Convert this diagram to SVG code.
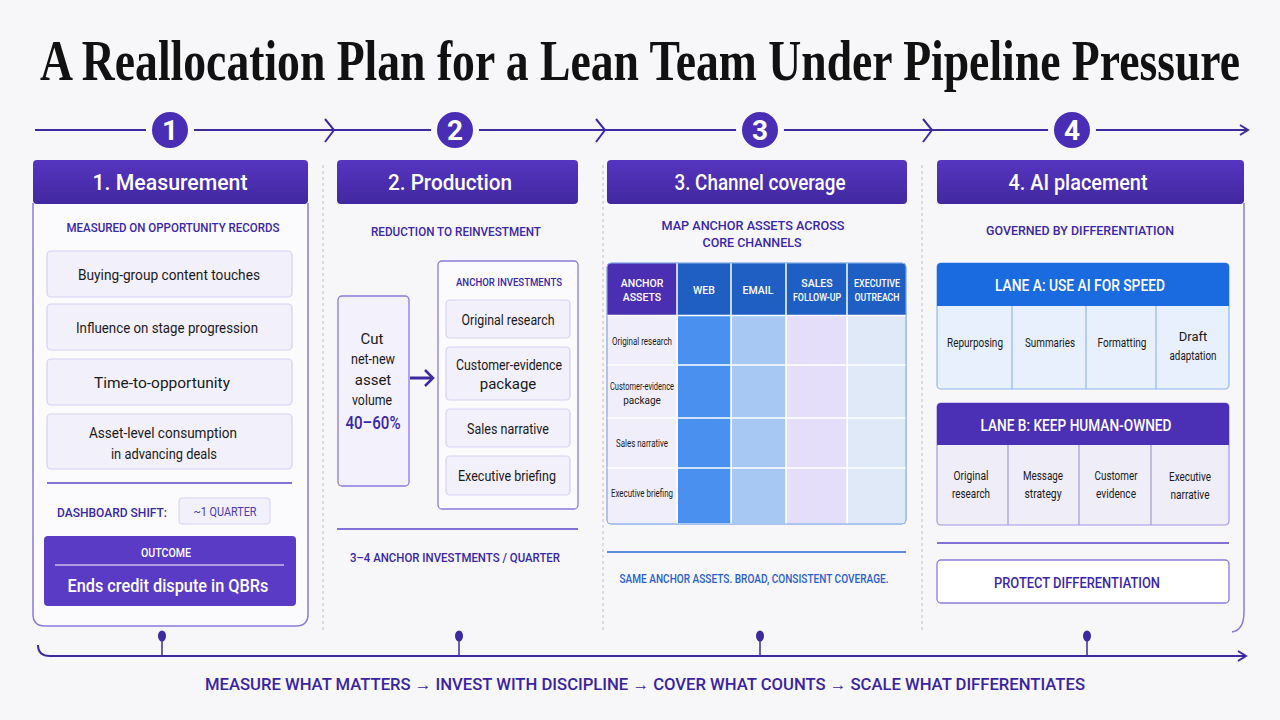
<svg xmlns="http://www.w3.org/2000/svg" width="1280" height="720" viewBox="0 0 1280 720">
<defs>
<style>
text{font-family:Roboto,"Liberation Sans",sans-serif;text-anchor:middle}
.title{font-family:"Liberation Serif",serif;font-weight:bold;font-size:56px;fill:#111}
.hdr{fill:#fff;font-size:22px;font-weight:500}
.num{fill:#fff;font-size:28px;font-weight:bold}
.sub{fill:#3a26a8;font-size:13px;font-weight:500}
.body{fill:#1a1a1a;font-size:15px}
.small{fill:#1a1a1a;font-size:10px}
.th{fill:#fff;font-size:10.5px;font-weight:500}
.cell{fill:#1a1a1a;font-size:13px}
.box{fill:#f2f0fb;stroke:#d6d0f2;stroke-width:1.2}
.pbox{fill:#f3f1fc;stroke:#8c7bdc;stroke-width:1.3}
.rule{stroke:#5b46c8;stroke-width:1.5}
.sep{stroke:#bdbdc6;stroke-width:1;stroke-dasharray:3 3}
.tl{stroke:#3d2a9e;stroke-width:2;fill:none}
</style>
<linearGradient id="hg" x1="0" y1="0" x2="0" y2="1">
<stop offset="0" stop-color="#5535c0"/><stop offset="1" stop-color="#41289f"/>
</linearGradient>
<marker id="ah" viewBox="0 0 12 12" refX="10" refY="6" markerWidth="12" markerHeight="12" markerUnits="userSpaceOnUse" orient="auto">
<path d="M2 1 L10 6 L2 11" fill="none" stroke="#3d2a9e" stroke-width="2"/>
</marker>
</defs>
<rect width="1280" height="720" fill="#f7f7fa"/>
<text class="title" transform="translate(640 80) scale(0.8 1)" x="0" y="0" textLength="1500" lengthAdjust="spacingAndGlyphs">A Reallocation Plan for a Lean Team Under Pipeline Pressure</text>

<g id="connectors">
<line class="tl" x1="35" y1="130" x2="1248" y2="130" marker-end="url(#ah)"/>
<path class="tl" d="M325 119 L334 130 L325 142"/>
<path class="tl" d="M596 119 L605 130 L596 142"/>
<path class="tl" d="M923 119 L932 130 L923 142"/>
<line class="sep" x1="323" y1="165" x2="323" y2="632"/>
<line class="sep" x1="603" y1="165" x2="603" y2="632"/>
<line class="sep" x1="922" y1="165" x2="922" y2="632"/>
<path class="tl" d="M38 645 Q38 656 50 656 H1246" marker-end="url(#ah)"/>
<line x1="162" y1="636" x2="162" y2="656" stroke="#3d2a9e" stroke-width="1.5"/>
<line x1="459" y1="636" x2="459" y2="656" stroke="#3d2a9e" stroke-width="1.5"/>
<line x1="760" y1="636" x2="760" y2="656" stroke="#3d2a9e" stroke-width="1.5"/>
<line x1="1087" y1="636" x2="1087" y2="656" stroke="#3d2a9e" stroke-width="1.5"/>
<ellipse cx="162" cy="636" rx="4" ry="5.5" fill="#3d2a9e"/>
<ellipse cx="459" cy="636" rx="4" ry="5.5" fill="#3d2a9e"/>
<ellipse cx="760" cy="636" rx="4" ry="5.5" fill="#3d2a9e"/>
<ellipse cx="1087" cy="636" rx="4" ry="5.5" fill="#3d2a9e"/>
<path d="M410 378 H431" stroke="#3d2a9e" stroke-width="3"/>
<path d="M425 370 L433 378 L425 386" fill="none" stroke="#3d2a9e" stroke-width="2.5"/>
</g>

<g id="steps">
<circle cx="170" cy="130" r="21" fill="#4a2db5" stroke="#f7f7fa" stroke-width="6"/>
<text class="num" x="170" y="140">1</text>
<circle cx="455" cy="130" r="21" fill="#4a2db5" stroke="#f7f7fa" stroke-width="6"/>
<text class="num" x="455" y="140">2</text>
<circle cx="760" cy="130" r="21" fill="#4a2db5" stroke="#f7f7fa" stroke-width="6"/>
<text class="num" x="760" y="140">3</text>
<circle cx="1072" cy="130" r="21" fill="#4a2db5" stroke="#f7f7fa" stroke-width="6"/>
<text class="num" x="1072" y="140">4</text>
</g>

<g id="col1">
<path d="M33 203 V614 Q33 626 45 626 H296 Q308 626 308 614 V203" fill="#fbfbfe" stroke="#8c7bdc" stroke-width="1.5"/>
<rect x="33" y="160" width="275" height="44" rx="4" fill="url(#hg)"/>
<text class="hdr" x="170" y="190" textLength="155" lengthAdjust="spacingAndGlyphs">1. Measurement</text>
<text class="sub" x="173" y="232" textLength="213" lengthAdjust="spacingAndGlyphs">MEASURED ON OPPORTUNITY RECORDS</text>
<rect class="box" x="47" y="251" width="245" height="46" rx="4"/>
<text class="body" x="169" y="280" textLength="182" lengthAdjust="spacingAndGlyphs">Buying-group content touches</text>
<rect class="box" x="47" y="304" width="245" height="46" rx="4"/>
<text class="body" x="167" y="333" textLength="182" lengthAdjust="spacingAndGlyphs">Influence on stage progression</text>
<rect class="box" x="47" y="359" width="245" height="46" rx="4"/>
<text class="body" x="162" y="388" textLength="136" lengthAdjust="spacingAndGlyphs">Time-to-opportunity</text>
<rect class="box" x="47" y="414" width="245" height="55" rx="4"/>
<text class="body" x="163" y="438" textLength="148" lengthAdjust="spacingAndGlyphs">Asset-level consumption</text>
<text class="body" x="164" y="459" textLength="106" lengthAdjust="spacingAndGlyphs">in advancing deals</text>
<line class="rule" x1="47" y1="483" x2="292" y2="483"/>
<text class="sub" x="112" y="517" textLength="110" lengthAdjust="spacingAndGlyphs">DASHBOARD SHIFT:</text>
<rect x="179" y="498" width="91" height="26" rx="3" fill="#f2f0fb" stroke="#d6d0f2"/>
<text x="225" y="516" fill="#4a3ab0" font-size="12.5" textLength="63" lengthAdjust="spacingAndGlyphs">~1 QUARTER</text>
<rect x="44" y="536" width="252" height="70" rx="4" fill="#5a3bc6"/>
<text x="166" y="557" fill="#fff" font-size="12.5" font-weight="500" textLength="50" lengthAdjust="spacingAndGlyphs">OUTCOME</text>
<line x1="55" y1="565" x2="284" y2="565" stroke="#fff" stroke-width="1"/>
<text x="168" y="592" fill="#fff" font-size="19" font-weight="500" textLength="201" lengthAdjust="spacingAndGlyphs">Ends credit dispute in QBRs</text>
</g>

<g id="col2">
<rect x="337" y="160" width="241" height="44" rx="4" fill="url(#hg)"/>
<text class="hdr" x="450" y="190" textLength="124" lengthAdjust="spacingAndGlyphs">2. Production</text>
<text class="sub" x="456" y="236" textLength="170" lengthAdjust="spacingAndGlyphs">REDUCTION TO REINVESTMENT</text>
<rect class="pbox" x="338" y="296" width="71" height="190" rx="4"/>
<text class="body" x="372" y="344">Cut</text>
<text class="body" x="373" y="364" textLength="44" lengthAdjust="spacingAndGlyphs">net-new</text>
<text class="body" x="373" y="385">asset</text>
<text class="body" x="372" y="405" textLength="40" lengthAdjust="spacingAndGlyphs">volume</text>
<text x="373" y="429" fill="#3a26a8" font-size="18" font-weight="500" textLength="55" lengthAdjust="spacingAndGlyphs">40–60%</text>
<rect x="438" y="261" width="140" height="248" rx="4" fill="#fbfbfe" stroke="#8c7bdc" stroke-width="1.3"/>
<text x="509" y="286" fill="#3a26a8" font-size="11" font-weight="500" textLength="106" lengthAdjust="spacingAndGlyphs">ANCHOR INVESTMENTS</text>
<rect class="box" x="446" y="300" width="124" height="38" rx="4"/>
<text class="body" x="508" y="325" textLength="93" lengthAdjust="spacingAndGlyphs">Original research</text>
<rect class="box" x="446" y="347" width="124" height="53" rx="4"/>
<text class="body" x="509" y="370" textLength="106" lengthAdjust="spacingAndGlyphs">Customer-evidence</text>
<text class="body" x="508" y="389">package</text>
<rect class="box" x="446" y="409" width="124" height="38" rx="4"/>
<text class="body" x="508" y="434" textLength="82" lengthAdjust="spacingAndGlyphs">Sales narrative</text>
<rect class="box" x="446" y="456" width="124" height="39" rx="4"/>
<text class="body" x="507" y="481" textLength="98" lengthAdjust="spacingAndGlyphs">Executive briefing</text>
<line class="rule" x1="337" y1="529" x2="578" y2="529"/>
<text class="sub" x="455" y="562" textLength="210" lengthAdjust="spacingAndGlyphs">3–4 ANCHOR INVESTMENTS / QUARTER</text>
</g>

<g id="col3">
<rect x="607" y="160" width="300" height="44" rx="4" fill="url(#hg)"/>
<text class="hdr" x="760" y="190" textLength="171" lengthAdjust="spacingAndGlyphs">3. Channel coverage</text>
<text class="sub" x="753" y="230" textLength="183" lengthAdjust="spacingAndGlyphs">MAP ANCHOR ASSETS ACROSS</text>
<text class="sub" x="752" y="247" textLength="99" lengthAdjust="spacingAndGlyphs">CORE CHANNELS</text>
<rect x="607" y="263" width="299" height="261" rx="4" fill="#fff" stroke="#8fb2ea" stroke-width="1"/>
<path d="M607 315 V267 Q607 263 611 263 H677 V315 Z" fill="#4b2fb2"/>
<path d="M677 315 V263 H902 Q906 263 906 267 V315 Z" fill="#1f5fc4"/>
<rect x="608" y="316" width="69" height="207" fill="#f0eefa"/>
<rect x="678" y="316" width="53" height="207" fill="#4a90ee"/>
<rect x="732" y="316" width="54" height="207" fill="#a8c8f4"/>
<rect x="787" y="316" width="60" height="207" fill="#e5defa"/>
<rect x="848" y="316" width="57" height="207" fill="#dfe9f8"/>
<g stroke="#fff" stroke-width="1.5">
<line x1="677" y1="263" x2="677" y2="524"/>
<line x1="731" y1="263" x2="731" y2="524"/>
<line x1="786" y1="263" x2="786" y2="524"/>
<line x1="847" y1="263" x2="847" y2="524"/>
<line x1="607" y1="315.5" x2="906" y2="315.5"/>
<line x1="607" y1="365" x2="906" y2="365"/>
<line x1="607" y1="418" x2="906" y2="418"/>
<line x1="607" y1="468" x2="906" y2="468"/>
</g>
<rect x="607" y="263" width="299" height="261" rx="4" fill="none" stroke="#8fb2ea" stroke-width="1"/>
<text class="th" x="642" y="287">ANCHOR</text>
<text class="th" x="642" y="301">ASSETS</text>
<text class="th" x="704" y="294">WEB</text>
<text class="th" x="758" y="294">EMAIL</text>
<text class="th" x="817" y="287">SALES</text>
<text class="th" x="817" y="301" textLength="48" lengthAdjust="spacingAndGlyphs">FOLLOW-UP</text>
<text class="th" x="877" y="287" textLength="46" lengthAdjust="spacingAndGlyphs">EXECUTIVE</text>
<text class="th" x="877" y="301" textLength="45" lengthAdjust="spacingAndGlyphs">OUTREACH</text>
<text class="small" x="642" y="345" textLength="60" lengthAdjust="spacingAndGlyphs">Original research</text>
<text class="small" x="642" y="390" textLength="64" lengthAdjust="spacingAndGlyphs">Customer-evidence</text>
<text class="small" x="642" y="404">package</text>
<text class="small" x="642" y="447" textLength="52" lengthAdjust="spacingAndGlyphs">Sales narrative</text>
<text class="small" x="642" y="497" textLength="62" lengthAdjust="spacingAndGlyphs">Executive briefing</text>
<line x1="607" y1="552" x2="906" y2="552" stroke="#2d68d0" stroke-width="1.5"/>
<text x="754" y="583" fill="#2a60cc" font-size="13" font-weight="500" textLength="269" lengthAdjust="spacingAndGlyphs">SAME ANCHOR ASSETS.  BROAD, CONSISTENT COVERAGE.</text>
</g>

<g id="col4">
<path d="M1244 203 V612 Q1244 630 1232 632" fill="none" stroke="#8c7bdc" stroke-width="1.5"/>
<rect x="937" y="160" width="307" height="44" rx="4" fill="url(#hg)"/>
<text class="hdr" x="1078" y="190" textLength="139" lengthAdjust="spacingAndGlyphs">4. AI placement</text>
<text class="sub" x="1080" y="235" textLength="188" lengthAdjust="spacingAndGlyphs">GOVERNED BY DIFFERENTIATION</text>
<rect x="937" y="263" width="292" height="126" rx="4" fill="#e7f0fc" stroke="#8fb8ee" stroke-width="1.2"/>
<path d="M937 306 V267 Q937 263 941 263 H1225 Q1229 263 1229 267 V306 Z" fill="#1a6be0"/>
<g stroke="#8fb8ee" stroke-width="1.2">
<line x1="1012" y1="306" x2="1012" y2="389"/>
<line x1="1086" y1="306" x2="1086" y2="389"/>
<line x1="1156" y1="306" x2="1156" y2="389"/>
</g>
<text x="1080" y="291" fill="#fff" font-size="16" font-weight="500" textLength="170" lengthAdjust="spacingAndGlyphs">LANE A: USE AI FOR SPEED</text>
<text class="cell" x="975" y="347" textLength="56" lengthAdjust="spacingAndGlyphs">Repurposing</text>
<text class="cell" x="1050" y="347" textLength="50" lengthAdjust="spacingAndGlyphs">Summaries</text>
<text class="cell" x="1122" y="347" textLength="49" lengthAdjust="spacingAndGlyphs">Formatting</text>
<text class="cell" x="1193" y="341">Draft</text>
<text class="cell" x="1193" y="360" textLength="47" lengthAdjust="spacingAndGlyphs">adaptation</text>
<rect x="937" y="403" width="292" height="122" rx="4" fill="#efedf8" stroke="#a597e0" stroke-width="1.2"/>
<path d="M937 445 V407 Q937 403 941 403 H1225 Q1229 403 1229 407 V445 Z" fill="#4b30b5"/>
<g stroke="#a597e0" stroke-width="1.2">
<line x1="1008" y1="445" x2="1008" y2="525"/>
<line x1="1079" y1="445" x2="1079" y2="525"/>
<line x1="1151" y1="445" x2="1151" y2="525"/>
</g>
<text x="1076" y="431" fill="#fff" font-size="16" font-weight="500" textLength="191" lengthAdjust="spacingAndGlyphs">LANE B: KEEP HUMAN-OWNED</text>
<text class="cell" x="971" y="480" textLength="35" lengthAdjust="spacingAndGlyphs">Original</text>
<text class="cell" x="971" y="498" textLength="38" lengthAdjust="spacingAndGlyphs">research</text>
<text class="cell" x="1043" y="480" textLength="40" lengthAdjust="spacingAndGlyphs">Message</text>
<text class="cell" x="1043" y="498" textLength="37" lengthAdjust="spacingAndGlyphs">strategy</text>
<text class="cell" x="1116" y="480" textLength="43" lengthAdjust="spacingAndGlyphs">Customer</text>
<text class="cell" x="1116" y="498" textLength="40" lengthAdjust="spacingAndGlyphs">evidence</text>
<text class="cell" x="1190" y="481" textLength="42" lengthAdjust="spacingAndGlyphs">Executive</text>
<text class="cell" x="1190" y="499" textLength="39" lengthAdjust="spacingAndGlyphs">narrative</text>
<line class="rule" x1="937" y1="543" x2="1229" y2="543"/>
<rect x="937" y="560" width="292" height="43" rx="4" fill="#fff" stroke="#8c7bdc" stroke-width="1.3"/>
<text x="1077" y="588" fill="#3a26a8" font-size="15" font-weight="500" textLength="166" lengthAdjust="spacingAndGlyphs">PROTECT DIFFERENTIATION</text>
</g>

<text x="645" y="690" fill="#3a24a0" font-size="16" font-weight="500" textLength="880" lengthAdjust="spacingAndGlyphs">MEASURE WHAT MATTERS  →  INVEST WITH DISCIPLINE  →  COVER WHAT COUNTS  →  SCALE WHAT DIFFERENTIATES</text>
</svg>
